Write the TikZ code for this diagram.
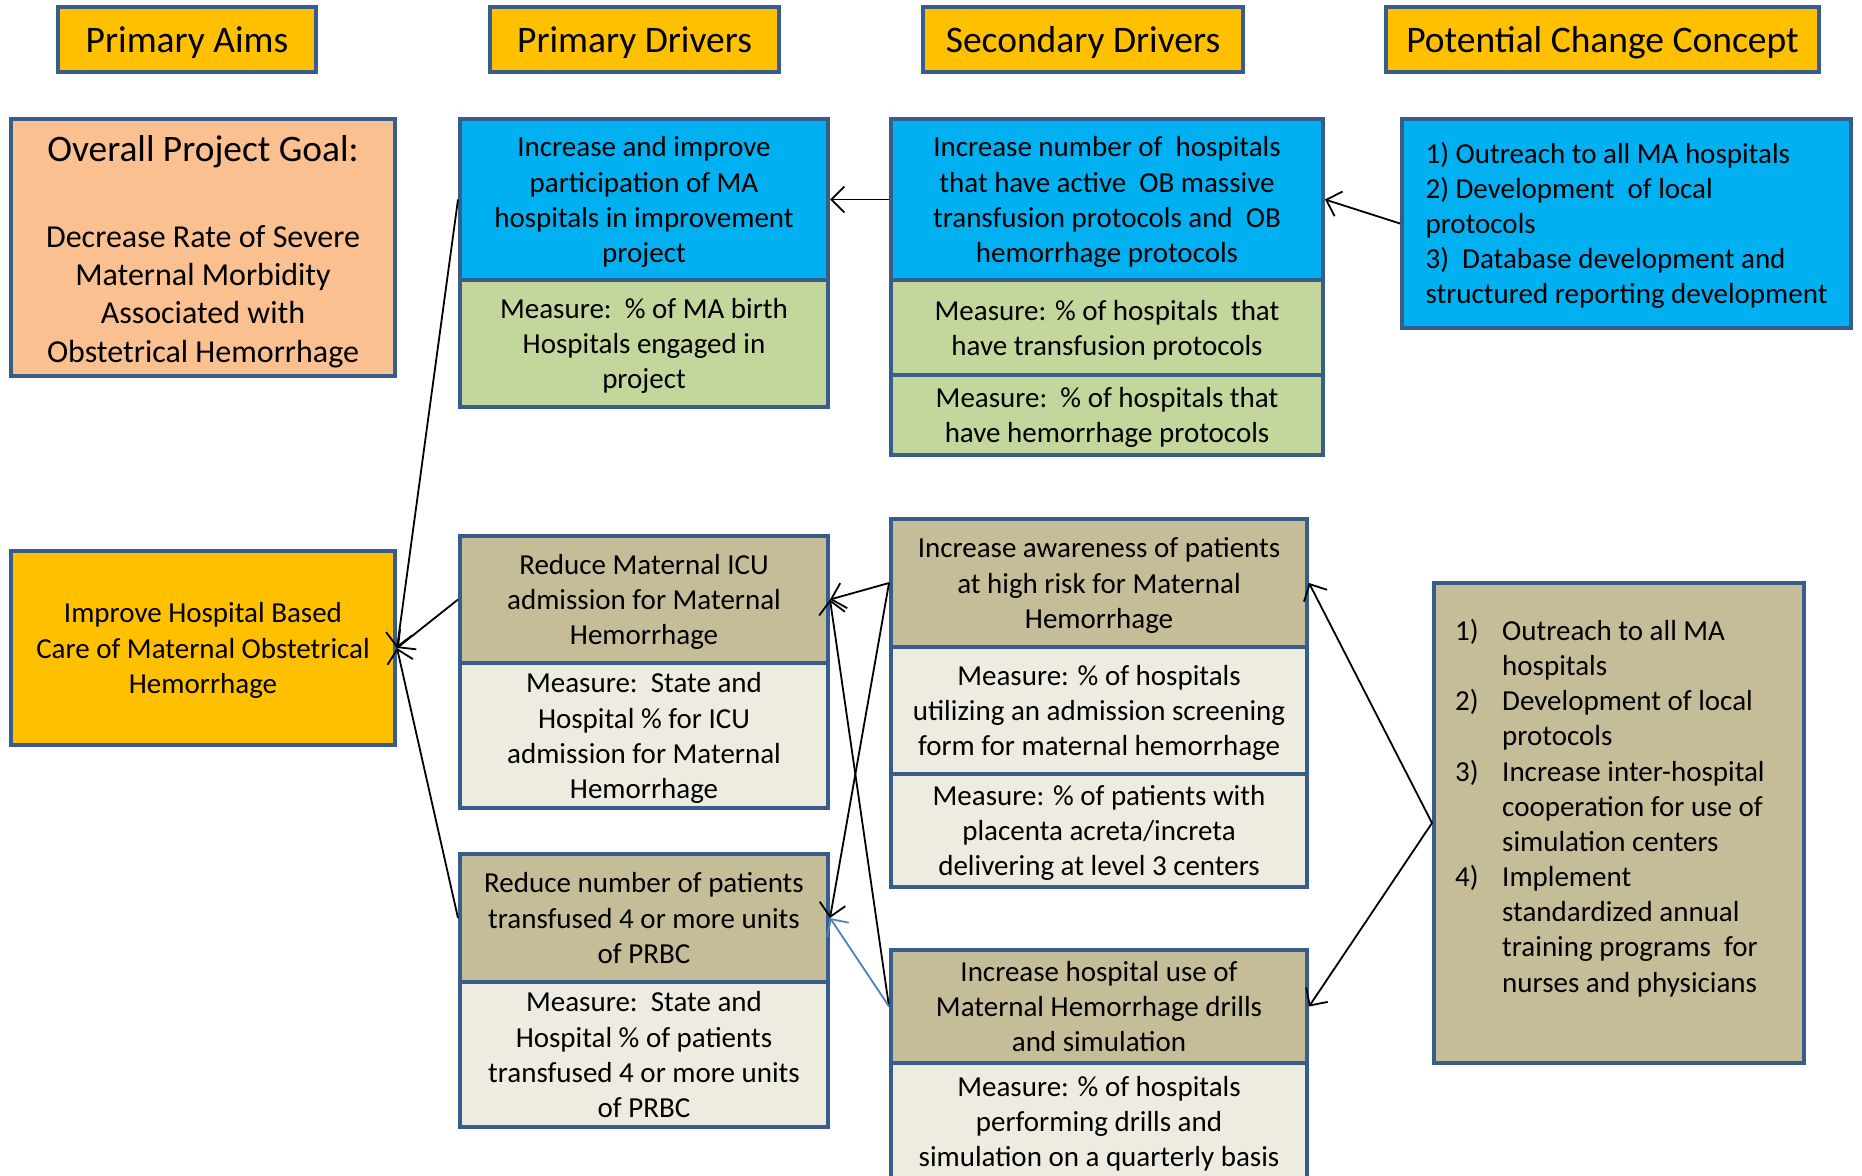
\documentclass[tikz,border=0pt]{standalone}
\usepackage{fontspec}
\setmainfont{Carlito}
\usetikzlibrary{arrows.meta}
\definecolor{bd}{HTML}{385D8A}
\definecolor{yel}{HTML}{FFC000}
\definecolor{peach}{HTML}{FAC090}
\definecolor{skyb}{HTML}{00B0F0}
\definecolor{grn}{HTML}{C3D69B}
\definecolor{tan}{HTML}{C4BD97}
\definecolor{lite}{HTML}{EEECE1}
\definecolor{arrblue}{HTML}{4F81BD}
\newcommand{\bodyfont}{\fontsize{29}{35.2}\selectfont}
\newcommand{\ccfont}{\fontsize{29}{35}\selectfont}
\newcommand{\listfont}{\fontsize{29}{35.15}\selectfont}
\newcommand{\headfont}{\fontsize{37.5}{44}\selectfont}
\newcommand{\goalfont}{\fontsize{32}{38.4}\selectfont}
\newcommand{\titlefont}{\fontsize{37.4}{44}\selectfont}
\newcommand{\Tp}{\rule{0pt}{0.98em}}
\begin{document}
\begin{tikzpicture}[x=1pt,y=-1pt,
  box/.style={draw=bd, line width=4pt, inner sep=0pt, align=center, font=\bodyfont,
    execute at begin node={\rule{0pt}{0.98em}},
    execute at end node={\rule[-0.28em]{0pt}{0.28em}}},
  arr/.style={line width=1.8pt, -{Straight Barb[length=13pt,width=26pt,line width=1.8pt]}},
  txt/.style={inner sep=0pt, font=\bodyfont}]
\useasboundingbox (0,0) rectangle (1862,1175);
\clip (0,0) rectangle (1862,1175);
% headers
\node[box, fill=yel, minimum width=258pt, minimum height=65pt, font=\headfont] (h1) at (187,39.5) {Primary Aims};
\node[box, fill=yel, minimum width=289pt, minimum height=65pt, font=\headfont] (h2) at (634.5,39.5) {Primary Drivers};
\node[box, fill=yel, minimum width=320pt, minimum height=65pt, font=\headfont] (h3) at (1083,39.5) {Secondary Drivers};
\node[box, fill=yel, minimum width=433pt, minimum height=65pt, font=\headfont] (h4) at (1602.5,39.5) {Potential Change Concept};
% row 1
\node[box, fill=peach, minimum width=384pt, minimum height=257pt] (goal) at (203,247.5) {};
\node[txt, font=\titlefont] (goalt) at (203,152) {Overall Project Goal:};
\node[txt, font=\goalfont, align=center] (goalb) at (203,296.4) {Decrease Rate of Severe\\Maternal Morbidity\\Associated with\\Obstetrical Hemorrhage};
\node[box, fill=skyb, minimum width=368pt, minimum height=161pt] (pd1b) at (644,199.5) {\Tp Increase and improve\\participation of MA\\hospitals in improvement\\project};
\node[box, fill=grn, minimum width=368pt, minimum height=127pt] (pd1g) at (644,343.5) {\Tp Measure:\ \ \% of MA birth\\Hospitals engaged in\\project};
\node[box, fill=skyb, minimum width=432pt, minimum height=161pt] (sd1b) at (1107,199.5) {\Tp Increase number of\ \ hospitals\\that have active\ \ OB massive\\transfusion protocols and\ \ OB\\hemorrhage protocols};
\node[box, fill=grn, minimum width=432pt, minimum height=95pt] (sd1g) at (1107,327.5) {\Tp Measure: \% of hospitals\ \ that\\have transfusion protocols};
\node[box, fill=grn, minimum width=432pt, minimum height=80pt] (sd1h) at (1107,415) {\Tp Measure:\ \ \% of hospitals that\\have hemorrhage protocols};
\node[box, fill=skyb, minimum width=449pt, minimum height=209pt, align=left, font=\ccfont] (cc1) at (1626.5,223.5) {\Tp 1) Outreach to all MA hospitals\\2) Development\ \ of local\\protocols\\3)\ \ Database development and\\structured reporting development};
% row 2
\node[box, fill=yel, minimum width=384pt, minimum height=194pt] (aim2) at (203,648) {\Tp Improve Hospital Based\\Care of Maternal Obstetrical\\Hemorrhage};
\node[box, fill=tan, minimum width=368pt, minimum height=127pt] (pd2) at (644,599.5) {\Tp Reduce Maternal ICU\\admission for Maternal\\Hemorrhage};
\node[box, fill=lite, minimum width=368pt, minimum height=145pt] (pd2m) at (644,735.5) {\Tp Measure:\ \ State and\\Hospital \% for ICU\\admission for Maternal\\Hemorrhage};
\node[box, fill=tan, minimum width=368pt, minimum height=128pt] (pd3) at (644,918) {\Tp Reduce number of patients\\transfused 4 or more units\\of PRBC};
\node[box, fill=lite, minimum width=368pt, minimum height=145pt] (pd3m) at (644,1054.5) {\Tp Measure:\ \ State and\\Hospital \% of patients\\transfused 4 or more units\\of PRBC};
\node[box, fill=tan, minimum width=416pt, minimum height=128pt] (sd2) at (1099,583) {\Tp Increase awareness of patients\\at high risk for Maternal\\Hemorrhage};
\node[box, fill=lite, minimum width=416pt, minimum height=127pt] (sd2m) at (1099,710.5) {\Tp Measure: \% of hospitals\\utilizing an admission screening\\form for maternal hemorrhage};
\node[box, fill=lite, minimum width=416pt, minimum height=113pt] (sd2n) at (1099,830.5) {\Tp Measure: \% of patients with\\placenta acreta/increta\\delivering at level 3 centers};
\node[box, fill=tan, minimum width=416pt, minimum height=113pt] (sd3) at (1099,1006.5) {\Tp Increase hospital use of\\Maternal Hemorrhage drills\\and simulation};
\node[box, fill=lite, minimum width=416pt, minimum height=117pt] (sd3m) at (1099,1121.5) {\Tp Measure: \% of hospitals\\performing drills and\\simulation on a quarterly basis};
\node[box, fill=tan, minimum width=370pt, minimum height=480pt] (cc2) at (1619,823) {};
\node[txt, font=\listfont, align=left, anchor=west] (cc2t) at (1455,808) {\makebox[47pt][l]{1)}Outreach to all MA\\\hspace*{47pt}hospitals\\\makebox[47pt][l]{2)}Development of local\\\hspace*{47pt}protocols\\\makebox[47pt][l]{3)}Increase inter-hospital\\\hspace*{47pt}cooperation for use of\\\hspace*{47pt}simulation centers\\\makebox[47pt][l]{4)}Implement\\\hspace*{47pt}standardized annual\\\hspace*{47pt}training programs\ \ for\\\hspace*{47pt}nurses and physicians};
% connectors
\draw[arr] (sd1b.west) -- (pd1b.east);
\draw[arr] (cc1.west) -- (sd1b.east);
\draw[arr] (pd1b.west) -- (aim2.east);
\draw[arr] (pd2.west) -- (aim2.east);
\draw[arr] (pd3.west) -- (aim2.east);
\draw[arr] (sd2.west) -- (pd2.east);
\draw[arr] (sd2.west) -- (pd3.east);
\draw[arr] (sd3.west) -- (pd2.east);
\draw[arr, draw=arrblue] (sd3.west) -- (pd3.east);
\draw[arr] (cc2.west) -- (sd2.east);
\draw[arr] (cc2.west) -- (sd3.east);
\end{tikzpicture}
\end{document}
